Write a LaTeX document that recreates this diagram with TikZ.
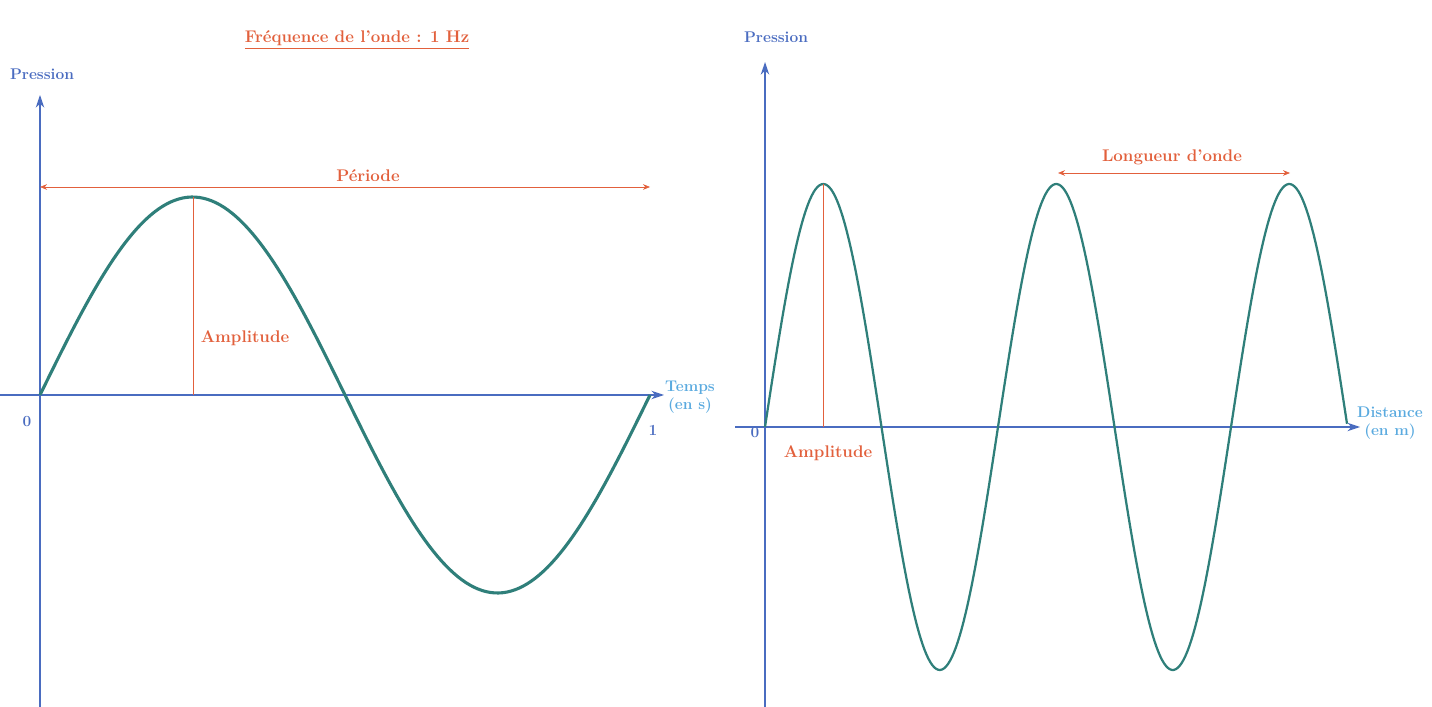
\documentclass[tikz,border=0pt]{standalone}
\usepackage{tikz}
\usetikzlibrary{arrows.meta,positioning,calc}

\definecolor{axisblue}{HTML}{4A6CC0}
\definecolor{labelblue}{HTML}{5AAADF}
\definecolor{wavegreen}{HTML}{2F7F7A}
\definecolor{noteorange}{HTML}{E2603C}

\begin{document}
\begin{tikzpicture}[
    x=0.025cm, y=-0.025cm,
    axis/.style={-{Stealth[length=9pt, width=6pt]}, axisblue, line width=1pt},
    wave/.style={wavegreen, line width=2.2pt, line join=round},
    measure/.style={noteorange, line width=0.5pt},
    note/.style={font=\fontsize{12}{14}\selectfont\bfseries, text=noteorange},
    axlabel/.style={font=\fontsize{11}{13}\selectfont\bfseries, text=labelblue, align=center},
    ylabel/.style={font=\fontsize{11}{13}\selectfont\bfseries, text=axisblue}
]
\useasboundingbox (0,0) rectangle (1432,707);

% left graph: time
\coordinate (tO) at (40,395);
\coordinate (tYbot) at (40,707);
\coordinate (tYtop) at (40,95);
\coordinate (tXleft) at (0,395);
\coordinate (tXright) at (664,395);
\draw[axis] (tYbot) -- (tYtop);
\draw[axis] (tXleft) -- (tXright);
\draw[wave] plot[domain=40:650, samples=150] (\x, {395-198*sin((\x-40)/610*360)});

\node[note] (titre) at (357,40) {\underline{Fréquence de l'onde : 1 Hz}};
\node[ylabel] (presT) at (42,74) {Pression};
\node[axlabel] (temps) at (690,397) {Temps\\(en s)};
\node[axlabel, text=axisblue] (zeroT) at (27,422) {0};
\node[axlabel, text=axisblue] (unT) at (653,430) {1};

\coordinate (perA) at (40,187);
\coordinate (perB) at (650,187);
\draw[measure, {Stealth[length=5pt, width=4pt]}-{Stealth[length=5pt, width=4pt]}] (perA) -- (perB);
\node[note] (periode) at (368,176) {Période};

\coordinate (ampTtop) at (193,197);
\coordinate (ampTbot) at (193,395);
\draw[measure] (ampTtop) -- (ampTbot);
\node[note] (ampT) at (245,338) {Amplitude};

% right graph: distance
\coordinate (dYbot) at (765,707);
\coordinate (dYtop) at (765,62);
\coordinate (dXleft) at (735,427);
\coordinate (dXright) at (1360,427);
\draw[axis] (dYbot) -- (dYtop);
\draw[axis] (dXleft) -- (dXright);
\draw[wave, line width=1.6pt] plot[domain=765:1347, samples=300] (\x, {427-243*sin((\x-765)/233*360)});

\node[ylabel] (presD) at (776,37) {Pression};
\node[axlabel] (dist) at (1390,423) {Distance\\(en m)};
\node[axlabel, text=axisblue] (zeroD) at (755,433) {0};

\coordinate (lonA) at (1058,173);
\coordinate (lonB) at (1290,173);
\draw[measure, {Stealth[length=5pt, width=4pt]}-{Stealth[length=5pt, width=4pt]}] (lonA) -- (lonB);
\node[note] (longueur) at (1172,157) {Longueur d'onde};

\coordinate (ampDtop) at (823,184);
\coordinate (ampDbot) at (823,427);
\draw[measure] (ampDtop) -- (ampDbot);
\node[note] (ampD) at (828,453) {Amplitude};
\end{tikzpicture}
\end{document}
